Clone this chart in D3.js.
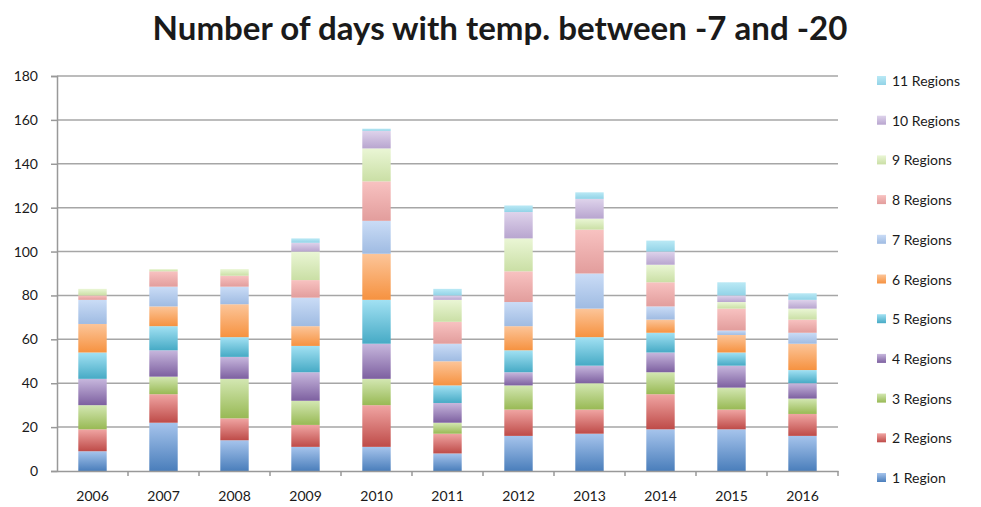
<!DOCTYPE html>
<html>
<head>
  <meta charset="utf-8">
  <title>Number of days with temp. between -7 and -20</title>
  <script src="https://d3js.org/d3.v7.min.js"></script>
  <style>
    body { margin: 0; background: #fff; }
    svg text { font-family: Lato, "Open Sans", sans-serif; fill: #1a1a1a; }
  </style>
</head>
<body>

  <svg></svg>

  <script>

    // Data
    var years = ["2006", "2007", "2008", "2009", "2010", "2011", "2012", "2013", "2014", "2015", "2016"];
    var seriesNames = ["1 Region", "2 Regions", "3 Regions", "4 Regions", "5 Regions", "6 Regions",
                       "7 Regions", "8 Regions", "9 Regions", "10 Regions", "11 Regions"];
    var r1  = [ 9, 22, 14, 11, 11,  8, 16, 17, 19, 19, 16];
    var r2  = [10, 13, 10, 10, 19,  9, 12, 11, 16,  9, 10];
    var r3  = [11,  8, 18, 11, 12,  5, 11, 12, 10, 10,  7];
    var r4  = [12, 12, 10, 13, 16,  9,  6,  8,  9, 10,  7];
    var r5  = [12, 11,  9, 12, 20,  8, 10, 13,  9,  6,  6];
    var r6  = [13,  9, 15,  9, 21, 11, 11, 13,  6,  8, 12];
    var r7  = [11,  9,  8, 13, 15,  8, 11, 16,  6,  2,  5];
    var r8  = [ 2,  7,  5,  8, 18, 10, 14, 20, 11, 10,  6];
    var r9  = [ 3,  1,  3, 13, 15, 10, 15,  5,  8,  3,  5];
    var r10 = [ 0,  0,  0,  4,  8,  2, 12,  9,  6,  3,  4];
    var r11 = [ 0,  0,  0,  2,  1,  3,  3,  3,  5,  6,  3];
    var yTicks = [0, 20, 40, 60, 80, 100, 120, 140, 160, 180];

    var seriesValues = [r1, r2, r3, r4, r5, r6, r7, r8, r9, r10, r11];

    // gradient colours per series (top, bottom)
    var colorsTop    = ["#a6c4ec", "#f0a5a3", "#d3e7b2", "#c7b7dd", "#a2e1f3", "#fcc599",
                        "#cadcf6", "#f8c2c1", "#eaf6d5", "#ded3eb", "#bae9f5"];
    var colorsBottom = ["#4a7ebb", "#be4b48", "#98b954", "#7d60a0", "#46aac5", "#f69240",
                        "#9fbbe2", "#e29d9c", "#cadfa5", "#b8a5cf", "#92d3e7"];

    var W = 981, H = 507;
    var margin = {top: 76, left: 57, right: 143, bottom: 36};
    var width = W - margin.left - margin.right,
        height = H - margin.top - margin.bottom;

    var table = years.map(function(y, i) {
      var row = {year: y};
      seriesNames.forEach(function(s, j) { row[s] = seriesValues[j][i]; });
      return row;
    });

    var stack = d3.stack().keys(seriesNames);
    var layers = stack(table);

    var svg = d3.select("svg")
        .attr("width", W)
        .attr("height", H);

    var defs = svg.append("defs");
    seriesNames.forEach(function(s, j) {
      var g = defs.append("linearGradient")
          .attr("id", "grad" + j)
          .attr("x1", 0).attr("y1", 0).attr("x2", 0).attr("y2", 1);
      g.append("stop").attr("offset", "0%").attr("stop-color", colorsTop[j]);
      g.append("stop").attr("offset", "100%").attr("stop-color", colorsBottom[j]);
    });

    var chart = svg.append("g")
        .attr("transform", "translate(" + margin.left + "," + margin.top + ")");

    var x = d3.scaleBand().domain(years).range([0, width]).paddingInner(0.6).paddingOuter(0.3);
    var xTick = d3.scaleBand().domain(years).range([0, width]);
    var y = d3.scaleLinear().domain([0, 180]).range([height, 0]);

    // gridlines
    chart.append("g")
        .selectAll("line")
        .data(yTicks.slice(1))
        .enter().append("line")
        .attr("x1", 0).attr("x2", width)
        .attr("y1", function(d) { return y(d); })
        .attr("y2", function(d) { return y(d); })
        .attr("stroke", "#a6a6a6")
        .attr("stroke-width", 1.5);

    // bars
    chart.selectAll("g.layer")
        .data(layers)
        .enter().append("g")
        .attr("class", "layer")
        .attr("fill", function(d, j) { return "url(#grad" + j + ")"; })
      .selectAll("rect")
        .data(function(d) { return d; })
        .enter().append("rect")
        .attr("x", function(d) { return x(d.data.year); })
        .attr("width", x.bandwidth())
        .attr("y", function(d) { return y(d[1]); })
        .attr("height", function(d) { return y(d[0]) - y(d[1]); });

    // y axis
    var yAxis = chart.append("g")
        .call(d3.axisLeft(y).tickValues(yTicks).tickSize(6).tickPadding(13));
    yAxis.select(".domain").attr("stroke", "#999").attr("stroke-width", 1.5);
    yAxis.selectAll(".tick line").attr("stroke", "#999").attr("stroke-width", 1.5);
    yAxis.selectAll("text").style("font-size", "14px").attr("fill", "#1a1a1a");

    // x axis
    var xAxis = chart.append("g")
        .attr("transform", "translate(0," + height + ")")
        .call(d3.axisBottom(xTick).tickSize(0).tickPadding(20));
    xAxis.select(".domain").attr("stroke", "#999").attr("stroke-width", 1.5);
    xAxis.selectAll("text").style("font-size", "14px").attr("fill", "#1a1a1a");
    // category boundary ticks
    xAxis.append("g")
        .selectAll("line")
        .data(years)
        .enter().append("line")
        .attr("x1", function(d) { return xTick(d) + xTick.bandwidth(); })
        .attr("x2", function(d) { return xTick(d) + xTick.bandwidth(); })
        .attr("y1", 0).attr("y2", 5)
        .attr("stroke", "#999").attr("stroke-width", 1.5);

    // title
    var title = svg.append("text")
        .attr("x", 500)
        .attr("y", 40)
        .attr("text-anchor", "middle")
        .style("font-weight", "bold")
        .style("font-size", "26px")
        .text("Number of days with temp. between -7 and -20");
    var tw = title.node().getComputedTextLength();
    title.style("font-size", (26 * 695 / tw) + "px");

    // legend, top entry is 11 Regions
    var legend = svg.append("g");
    var legendItems = legend.selectAll("g")
        .data(seriesNames.slice().reverse())
        .enter().append("g")
        .attr("transform", function(d, i) { return "translate(877," + (81 + i * 39.7) + ")"; });
    legendItems.append("rect")
        .attr("x", 0).attr("y", -5)
        .attr("width", 9).attr("height", 9)
        .attr("fill", function(d) { return "url(#grad" + seriesNames.indexOf(d) + ")"; });
    legendItems.append("text")
        .attr("x", 15)
        .attr("y", 5)
        .style("font-size", "14px")
        .text(function(d) { return d; });

  </script>

</body>
</html>
